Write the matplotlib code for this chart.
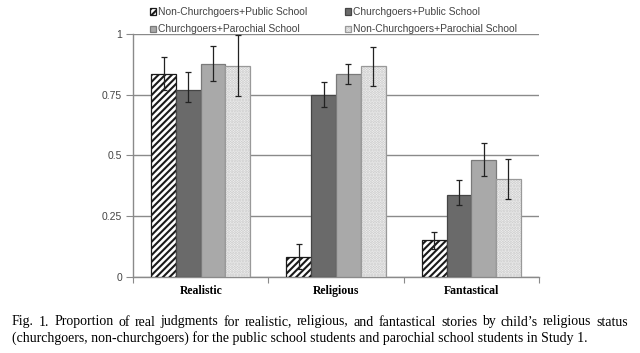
import matplotlib
matplotlib.use("Agg")
import matplotlib.pyplot as plt
import numpy as np

categories = ["Realistic", "Religious", "Fantastical"]
series = ["Non-Churchgoers+Public School", "Churchgoers+Public School",
          "Churchgoers+Parochial School", "Non-Churchgoers+Parochial School"]
values = {
    "Non-Churchgoers+Public School": [0.837, 0.082, 0.150],
    "Churchgoers+Public School": [0.772, 0.752, 0.337],
    "Churchgoers+Parochial School": [0.878, 0.836, 0.482],
    "Non-Churchgoers+Parochial School": [0.870, 0.868, 0.402],
}
err_low = {
    "Non-Churchgoers+Public School": [0.770, 0.030, 0.115],
    "Churchgoers+Public School": [0.720, 0.700, 0.297],
    "Churchgoers+Parochial School": [0.807, 0.795, 0.414],
    "Non-Churchgoers+Parochial School": [0.744, 0.787, 0.320],
}
err_high = {
    "Non-Churchgoers+Public School": [0.905, 0.135, 0.185],
    "Churchgoers+Public School": [0.843, 0.804, 0.400],
    "Churchgoers+Parochial School": [0.952, 0.880, 0.553],
    "Non-Churchgoers+Parochial School": [0.998, 0.950, 0.486],
}
yticks = [0, 0.25, 0.5, 0.75, 1]
ytick_labels = ["0", "0.25", "0.5", "0.75", "1"]
caption1 = ("Fig. 1.  Proportion of real judgments for realistic, religious, and fantastical "
            "stories by child\u2019s religious status")
caption2 = ("(churchgoers, non-churchgoers) for the public school students and parochial "
            "school students in Study 1.")

styles = [
    dict(facecolor="white", edgecolor="#1a1a1a", hatch="/////"),
    dict(facecolor="#6a6a6a", edgecolor="#454545", hatch=None),
    dict(facecolor="#a9a9a9", edgecolor="#7a7a7a", hatch=None),
    dict(facecolor="#f8f8f8", edgecolor="#999999", hatch="......"),
]

plt.rcParams["hatch.linewidth"] = 1.5
fig = plt.figure(figsize=(6.4, 3.53), dpi=100)
ax = fig.add_axes([0.208, 0.2167, 0.634, 0.6856])

x = np.arange(len(categories))
bw = 0.183
handles = []
for i, s in enumerate(series):
    pos = x + (i - 1.5) * bw
    v = np.array(values[s])
    lo = v - np.array(err_low[s])
    hi = np.array(err_high[s]) - v
    st = styles[i]
    b = ax.bar(pos, v, width=bw, facecolor=st["facecolor"], edgecolor=st["edgecolor"],
               hatch=st["hatch"], linewidth=0.9, zorder=3)
    handles.append(b)
    ax.errorbar(pos, v, yerr=[lo, hi], fmt="none", ecolor="#222222", elinewidth=0.9,
                capsize=2, capthick=0.9, zorder=4)

for p in handles[3].patches:
    p._hatch_color = matplotlib.colors.to_rgba("#c4c4c4")
for p in handles[0].patches:
    p._hatch_color = matplotlib.colors.to_rgba("#1a1a1a")

ax.set_xlim(-0.5, 2.5)
ax.set_ylim(0, 1)
ax.set_yticks(yticks)
ax.set_yticklabels(ytick_labels, fontsize=7.5, color="#444444", family="Liberation Sans")
ax.yaxis.grid(True, color="#8a8a8a", linewidth=1.0, zorder=0)
ax.set_axisbelow(True)
ax.tick_params(axis="y", length=5, color="#8a8a8a", pad=3)
ax.set_xticks([-0.5, 0.5, 1.5, 2.5])
ax.set_xticklabels([])
ax.tick_params(axis="x", length=4, color="#8a8a8a", direction="out")
for sp in ["top", "right"]:
    ax.spines[sp].set_visible(False)
ax.spines["left"].set_color("#8a8a8a")
ax.spines["bottom"].set_color("#8a8a8a")
ax.spines["left"].set_linewidth(1.0)
ax.spines["bottom"].set_linewidth(1.0)

for xi, c in zip(x, categories):
    ax.text(xi, -0.058, c, ha="center", va="center", fontsize=8.5, fontweight="bold",
            family="Liberation Serif", transform=ax.get_xaxis_transform())

order = [0, 2, 1, 3]
leg = fig.legend([handles[k] for k in order], [series[k] for k in order], ncol=2,
                 loc="upper left", bbox_to_anchor=(0.222, 1.003), frameon=False,
                 prop={"family": "Liberation Sans", "size": 7.4},
                 handlelength=0.55, handleheight=0.55, handletextpad=0.2,
                 labelspacing=0.7, columnspacing=3.7, borderpad=0.3)
for t in leg.get_texts():
    t.set_color("#444444")

# caption
fig.canvas.draw()
r = fig.canvas.get_renderer()
left_px, right_px = 12, 628
fs = 9.6
t2 = fig.text(left_px / 640, 1 - 342 / 353, caption2, fontsize=fs, family="Liberation Serif",
              ha="left", va="baseline")
w = t2.get_window_extent(r).width
fs = fs * 580 / w
t2.set_fontsize(fs)
words = [w_ for w_ in caption1.split(" ") if w_ != ""]
tmp = []
tot = 0
for w_ in words:
    tt = fig.text(0, 0, w_, fontsize=fs, family="Liberation Serif", va="baseline")
    ww = tt.get_window_extent(r).width
    tot += ww
    tmp.append((tt, ww))
gap = (right_px - left_px - tot) / (len(words) - 1)
xpos = left_px
for tt, ww in tmp:
    tt.set_position((xpos / 640, 1 - 325.5 / 353))
    xpos += ww + gap

fig.savefig("out.png", dpi=100)
